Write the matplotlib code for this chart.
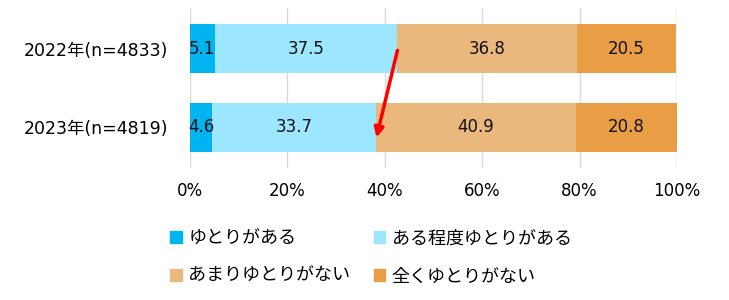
import numpy as np
import matplotlib.pyplot as plt
from matplotlib.patches import Patch

plt.rcParams['font.family'] = ['DejaVu Sans', 'Noto Sans CJK JP']

# data
years = ['2022年(n=4833)', '2023年(n=4819)']
labels = ['ゆとりがある', 'ある程度ゆとりがある', 'あまりゆとりがない', '全くゆとりがない']
vals = [
    [5.1, 4.6],
    [37.5, 33.7],
    [36.8, 40.9],
    [20.5, 20.8],
]
colors = ['#00B4F0', '#9CE6FF', '#EAB87C', '#E99D44']
xticks = [0, 20, 40, 60, 80, 100]

fig = plt.figure(figsize=(7.29, 3.0), dpi=100)
ax = fig.add_axes([0.2606, 0.44, 0.668, 0.533])

y = np.arange(len(years))
left = np.zeros(len(years))
for v, c in zip(vals, colors):
    v = np.array(v)
    ax.barh(y, v, left=left, height=0.625, color=c, zorder=2)
    for yi, (l, w) in enumerate(zip(left, v)):
        ax.text(l + w / 2, yi, f'{w:.1f}', ha='center', va='center', fontsize=12, color='#111111', zorder=3)
    left = left + v

# red arrow between boundaries of the "yutori" part
top_edge = vals[0][0] + vals[1][0]
bot_edge = vals[0][1] + vals[1][1]
ax.annotate('', xy=(bot_edge, 1.13), xytext=(top_edge, 0.02),
            arrowprops=dict(arrowstyle='-|>', color='#FF0000', lw=2.5,
                            mutation_scale=14, shrinkA=0, shrinkB=0), zorder=4)

ax.set_xlim(0, 100)
ax.set_ylim(1.52, -0.52)
ax.set_xticks(xticks)
ax.set_xticklabels([f'{t}%' for t in xticks], fontsize=12)
ax.set_yticks(y)
ax.set_yticklabels(years, fontsize=12.5)
ax.tick_params(length=0)
ax.tick_params(axis='x', pad=10)
ax.tick_params(axis='y', pad=16)
ax.grid(axis='x', color='#D9D9D9', lw=1, zorder=0)
for s in ax.spines.values():
    s.set_visible(False)

# legend filled row by row
order = [0, 2, 1, 3]
handles = [Patch(color=colors[i]) for i in order]
fig.legend(handles, [labels[i] for i in order], ncol=2, loc='upper left', bbox_to_anchor=(0.221, 0.265),
           frameon=False, fontsize=13, handlelength=0.65, handleheight=0.65,
           handletextpad=0.35, columnspacing=1.3, labelspacing=1.1, borderpad=0)

fig.savefig('out.png', dpi=100)
